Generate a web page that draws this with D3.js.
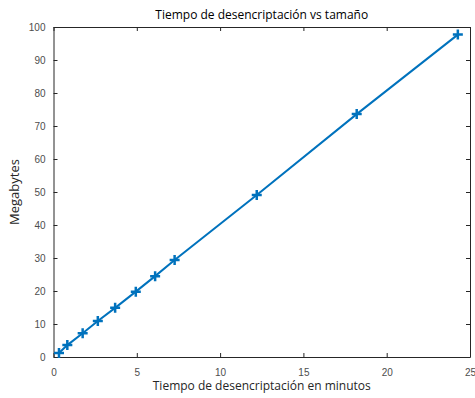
<!DOCTYPE html>
<html>
<head>
<meta charset="utf-8">
<script src="https://cdn.jsdelivr.net/npm/d3@7"></script>
<style>
	body { margin: 0; background: #fff; }
	svg { font-family: 'Open Sans', sans-serif; }
	.tick text { fill: #4d4d4d; font-size: 10px; }
	.tick line, .domain { stroke: #262626; }
</style>
</head>
<body>
<div id="chart"></div>
<script>
const minutes = [0.33, 0.83, 1.75, 2.66, 3.7, 4.94, 6.1, 7.27, 12.2, 18.2, 24.27]
const megabytes = [1.2, 3.6, 7.2, 10.9, 14.9, 19.8, 24.5, 29.4, 49.1, 73.6, 97.7]
const xTicks = [0, 5, 10, 15, 20, 25]
const yTicks = [0, 10, 20, 30, 40, 50, 60, 70, 80, 90, 100]

const width = 475
const height = 398
const margin = { top: 27, right: 5, bottom: 41, left: 53.5 }

const svg = d3
	.select('#chart')
	.append('svg')
	.attr('width', width)
	.attr('height', height)

const x = d3
	.scaleLinear()
	.domain([0, 25])
	.range([margin.left, width - margin.right])

const y = d3
	.scaleLinear()
	.domain([0, 100])
	.range([height - margin.bottom, margin.top])

// box axes, ticks pointing inward like matlab
svg
	.append('g')
	.attr('transform', `translate(0,${y(0)})`)
	.call(d3.axisBottom(x).tickValues(xTicks).tickSizeInner(-4).tickSizeOuter(0).tickPadding(12))

svg
	.append('g')
	.attr('transform', `translate(0,${y(100)})`)
	.call(d3.axisTop(x).tickValues(xTicks).tickSizeInner(-4).tickSizeOuter(0).tickFormat(''))

svg
	.append('g')
	.attr('transform', `translate(${x(0)},0)`)
	.call(d3.axisLeft(y).tickValues(yTicks).tickSizeInner(-4).tickSizeOuter(0).tickPadding(8))

svg
	.append('g')
	.attr('transform', `translate(${x(25)},0)`)
	.call(d3.axisRight(y).tickValues(yTicks).tickSizeInner(-4).tickSizeOuter(0).tickFormat(''))

svg.selectAll('.domain').attr('stroke-width', 1)

const points = minutes.map((m, i) => [m, megabytes[i]])

svg
	.append('path')
	.datum(points)
	.attr('fill', 'none')
	.attr('stroke', '#0072BD')
	.attr('stroke-width', 2)
	.attr('d', d3.line().x(d => x(d[0])).y(d => y(d[1])))

svg
	.append('g')
	.selectAll('path')
	.data(points)
	.enter()
	.append('path')
	.attr('transform', d => `translate(${x(d[0])},${y(d[1])})`)
	.attr('d', 'M-5,0H5M0,-5V5')
	.attr('stroke', '#0072BD')
	.attr('stroke-width', 2.5)

svg
	.append('text')
	.attr('x', (x(0) + x(25)) / 2)
	.attr('y', 19)
	.attr('text-anchor', 'middle')
	.style('font-size', '12px')
	.style('fill', '#000')
	.text('Tiempo de desencriptación vs tamaño')

svg
	.append('text')
	.attr('x', (x(0) + x(25)) / 2)
	.attr('y', 390)
	.attr('text-anchor', 'middle')
	.style('font-size', '12px')
	.style('fill', '#262626')
	.text('Tiempo de desencriptación en minutos')

svg
	.append('text')
	.attr('transform', `translate(19,${(y(0) + y(100)) / 2}) rotate(-90)`)
	.attr('text-anchor', 'middle')
	.style('font-size', '13px')
	.style('fill', '#262626')
	.text('Megabytes')
</script>
</body>
</html>
